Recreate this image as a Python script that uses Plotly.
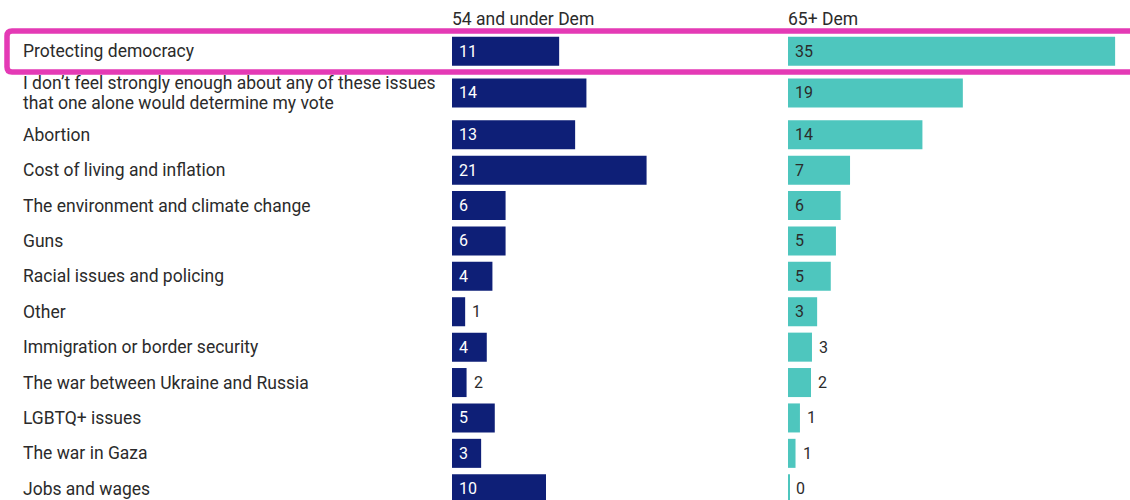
import plotly.graph_objects as go

# ---- data ----
issues = [
    "Protecting democracy",
    "I don\u2019t feel strongly enough about any of these issues<br>that one alone would determine my vote",
    "Abortion",
    "Cost of living and inflation",
    "The environment and climate change",
    "Guns",
    "Racial issues and policing",
    "Other",
    "Immigration or border security",
    "The war between Ukraine and Russia",
    "LGBTQ+ issues",
    "The war in Gaza",
    "Jobs and wages",
]
under54_dem = [11.4, 14.3, 13.1, 20.7, 5.7, 5.7, 4.3, 1.4, 3.7, 1.55, 4.55, 3.1, 10.0]
over65_dem = [34.8, 18.6, 14.3, 6.6, 5.6, 5.1, 4.55, 3.1, 2.55, 2.45, 1.27, 0.8, 0.14]
series_names = ["54 and under Dem", "65+ Dem"]
highlighted = "Protecting democracy"

# ---- style ----
W, H = 1130, 500
NAVY = "#0e1f77"
TEAL = "#4ec6be"
MAGENTA = "#e43ab5"
TEXT = "#2b2b2b"
FONT = "Roboto, Arial, sans-serif"
PX_PER_VAL = 9.4
ROW_PX = 35.4
EXTRA_LINE = 0.36
BAR_T = 0.82
LINE_PX = 20

# row positions (in row units) depending on label line count
heights = [1 + EXTRA_LINE * (s.count("<br>")) for s in issues]
pos = [0.0]
for i in range(1, len(issues)):
    pos.append(pos[-1] + (heights[i - 1] + heights[i]) / 2)
y_top = -51.2 / ROW_PX
y_bot = y_top + H / ROW_PX

left_x0, left_x1 = 452, 770
right_x0, right_x1 = 788, W

fig = go.Figure()
fig.add_trace(go.Bar(y=pos, x=under54_dem, orientation="h", width=BAR_T,
                     marker=dict(color=NAVY, line=dict(width=0)),
                     xaxis="x", yaxis="y", hoverinfo="skip", name=series_names[0]))
fig.add_trace(go.Bar(y=pos, x=over65_dem, orientation="h", width=BAR_T,
                     marker=dict(color=TEAL, line=dict(width=0)),
                     xaxis="x2", yaxis="y", hoverinfo="skip", name=series_names[1]))

ann = []
# category labels (each line placed separately to control line spacing)
for s, p in zip(issues, pos):
    lines = s.split("<br>")
    n = len(lines)
    for k, line in enumerate(lines):
        ann.append(dict(text=line, xref="paper", x=21 / W, xanchor="left",
                        yref="y", y=p, yanchor="middle",
                        yshift=-(k - (n - 1) / 2) * LINE_PX, showarrow=False,
                        align="left", font=dict(family=FONT, size=17.5, color=TEXT)))
# headers
for name, x0 in zip(series_names, [left_x0, right_x0]):
    ann.append(dict(text=name, xref="paper", x=(x0 - 2) / W, xanchor="left",
                    yref="paper", y=1 - 19 / H, yanchor="middle", showarrow=False,
                    font=dict(family=FONT, size=17.5, color=TEXT)))
# value labels
for vals, xr, inside_col in [(under54_dem, "x", "white"), (over65_dem, "x2", TEXT)]:
    for v, p in zip(vals, pos):
        inside = v >= 2.8
        ann.append(dict(text=f"{v:.0f}", xref=xr, x=0 if inside else v,
                        xanchor="left", xshift=5, yref="y", y=p, yanchor="middle",
                        showarrow=False,
                        font=dict(family=FONT, size=16,
                                  color=inside_col if inside else TEXT)))

# highlight rectangle around the chosen row
yt = 1 - 31 / H
yb = 1 - 72 / H
x0 = 7 / W
x1 = 1150 / W
rx, ry = 5 / W, 5 / H
path = (f"M {x0+rx},{yt} L {x1},{yt} L {x1},{yb} L {x0+rx},{yb} "
        f"Q {x0},{yb} {x0},{yb+ry} L {x0},{yt-ry} Q {x0},{yt} {x0+rx},{yt} Z")
shapes = [dict(type="path", path=path, xref="paper", yref="paper",
               line=dict(color=MAGENTA, width=5.5), fillcolor="rgba(0,0,0,0)")]

fig.update_layout(
    width=W, height=H,
    margin=dict(l=0, r=0, t=0, b=0),
    paper_bgcolor="white", plot_bgcolor="white",
    showlegend=False, barmode="overlay",
    xaxis=dict(domain=[left_x0 / W, left_x1 / W],
               range=[0, (left_x1 - left_x0) / PX_PER_VAL], visible=False, fixedrange=True),
    xaxis2=dict(domain=[right_x0 / W, right_x1 / W],
                range=[0, (right_x1 - right_x0) / PX_PER_VAL], visible=False, fixedrange=True),
    yaxis=dict(range=[y_bot, y_top], visible=False, fixedrange=True),
    annotations=ann, shapes=shapes,
    font=dict(family=FONT, color=TEXT),
)

fig.write_html("out.html", config={"displayModeBar": False},
               post_script="document.body.style.margin='0';document.body.style.overflow='hidden';")
